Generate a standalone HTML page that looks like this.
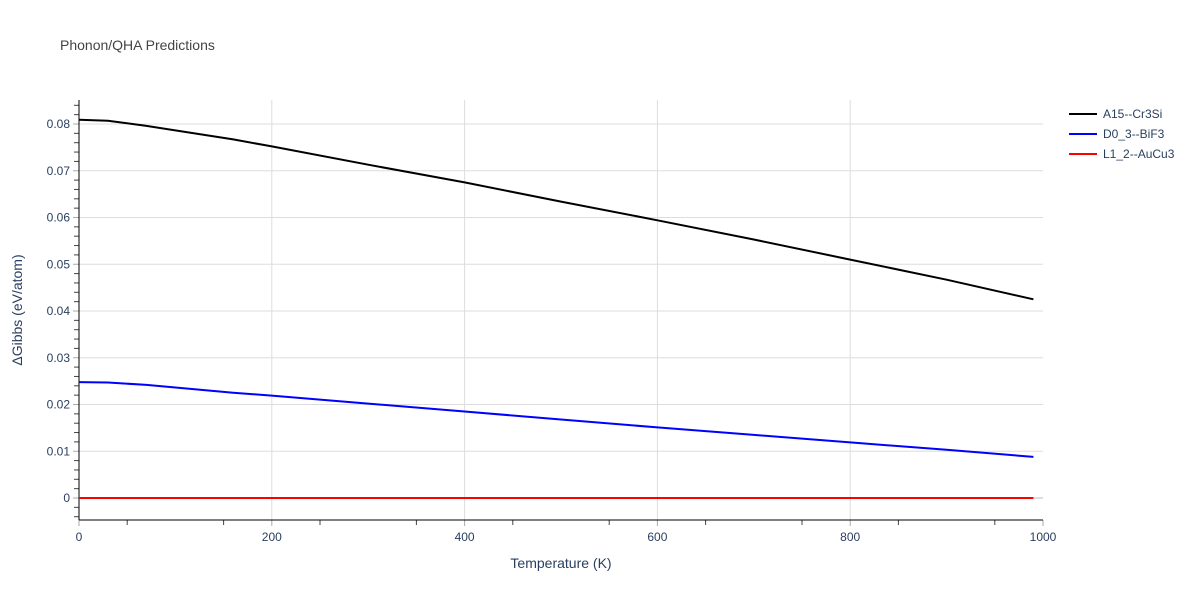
<!DOCTYPE html>
<html><head><meta charset="utf-8"><style>
body{margin:0;background:#fff;}
svg{font-family:"Liberation Sans",sans-serif;}
</style></head><body>
<svg id="c" width="1200" height="600">
<rect width="1200" height="600" fill="#fff"/>
<text x="60" y="50" font-size="14" fill="#444">Phonon/QHA Predictions</text>
<g id="grid"></g><g id="axes"></g><g id="series"></g>
<text x="561" y="568" font-size="14" fill="#2a3f5f" text-anchor="middle">Temperature (K)</text>
<text transform="translate(22,310) rotate(-90)" font-size="14" fill="#2a3f5f" text-anchor="middle">ΔGibbs (eV/atom)</text>
<g id="legend"></g>
</svg>
<script>
const temps=[0,30,70,160,200,300,400,500,600,700,800,900,990];
const a15=[0.0809,0.0807,0.0796,0.0767,0.0752,0.0713,0.0675,0.0634,0.0594,0.0553,0.0510,0.0467,0.0425];
const d03=[0.0248,0.0247,0.0242,0.0225,0.0219,0.0202,0.0185,0.0168,0.0151,0.0135,0.0119,0.0103,0.0088];
const l12=[0,0,0,0,0,0,0,0,0,0,0,0,0];
const seriesNames=["A15--Cr3Si","D0_3--BiF3","L1_2--AuCu3"];
const seriesColors=["#000","#0000ff","#ff0000"];
const xTicks=[0,200,400,600,800,1000];
const yTicks=[0,0.01,0.02,0.03,0.04,0.05,0.06,0.07,0.08];
const yTickLabels=["0","0.01","0.02","0.03","0.04","0.05","0.06","0.07","0.08"];
const NS="http://www.w3.org/2000/svg";
const L=79,R=1043,T=100,B=520;
const xs=v=>L+(v/1000)*(R-L);
const ys=v=>498-v*4675;
function mk(tag,attrs,parent){const e=document.createElementNS(NS,tag);for(const k in attrs)e.setAttribute(k,attrs[k]);document.getElementById(parent).appendChild(e);return e;}
xTicks.forEach(t=>{
 if(t>0&&t<1000){const g=mk('line',{x1:xs(t),x2:xs(t),y1:T,y2:B,stroke:'#ddd'},'grid');}
 const k=mk('line',{x1:xs(t),x2:xs(t),y1:B,y2:B+6,stroke:'#aaa'},'axes');
 const tx=mk('text',{x:xs(t),y:B+21,'font-size':12,fill:'#2a3f5f','text-anchor':'middle'},'axes');tx.textContent=t;
 
});
for(let t=50;t<1000;t+=100){const m=mk('line',{x1:xs(t),x2:xs(t),y1:B,y2:B+5,stroke:'#444'},'axes');}
yTicks.forEach((v,i)=>{
 const g=mk('line',{x1:L,x2:R,y1:ys(v),y2:ys(v),stroke:v===0?'#bbb':'#ddd'},'grid');
 const k=mk('line',{x1:L-6,x2:L,y1:ys(v),y2:ys(v),stroke:'#aaa'},'axes');
 const tx=mk('text',{x:L-9,y:ys(v)+4,'font-size':12,fill:'#2a3f5f','text-anchor':'end'},'axes');tx.textContent=yTickLabels[i];
 
});
for(let i=-2;i<=42;i++){if(i%5===0)continue;const v=i*0.002;const y=ys(v);if(y<T||y>B)continue;
 const m=mk('line',{x1:L-5,x2:L,y1:y,y2:y,stroke:'#444'},'axes');}
let ax=mk('line',{x1:L,x2:L,y1:T,y2:B,stroke:'#000'},'axes');
ax=mk('line',{x1:L,x2:R,y1:B,y2:B,stroke:'#000'},'axes');
[a15,d03,l12].forEach((vals,si)=>{
 const d=vals.map((v,i)=>(i?'L':'M')+xs(temps[i]).toFixed(1)+','+ys(v).toFixed(1)).join(' ');
 const p=mk('path',{d:d,fill:'none',stroke:seriesColors[si],'stroke-width':2},'series');
 
 
 const y=114+si*20;
 const ll=mk('line',{x1:1069,x2:1097,y1:y,y2:y,stroke:seriesColors[si],'stroke-width':2},'legend');
 
 const lt=mk('text',{x:1103,y:y+4,'font-size':12,fill:'#2a3f5f'},'legend');lt.textContent=seriesNames[si];
 
});
</script>
</body></html>
